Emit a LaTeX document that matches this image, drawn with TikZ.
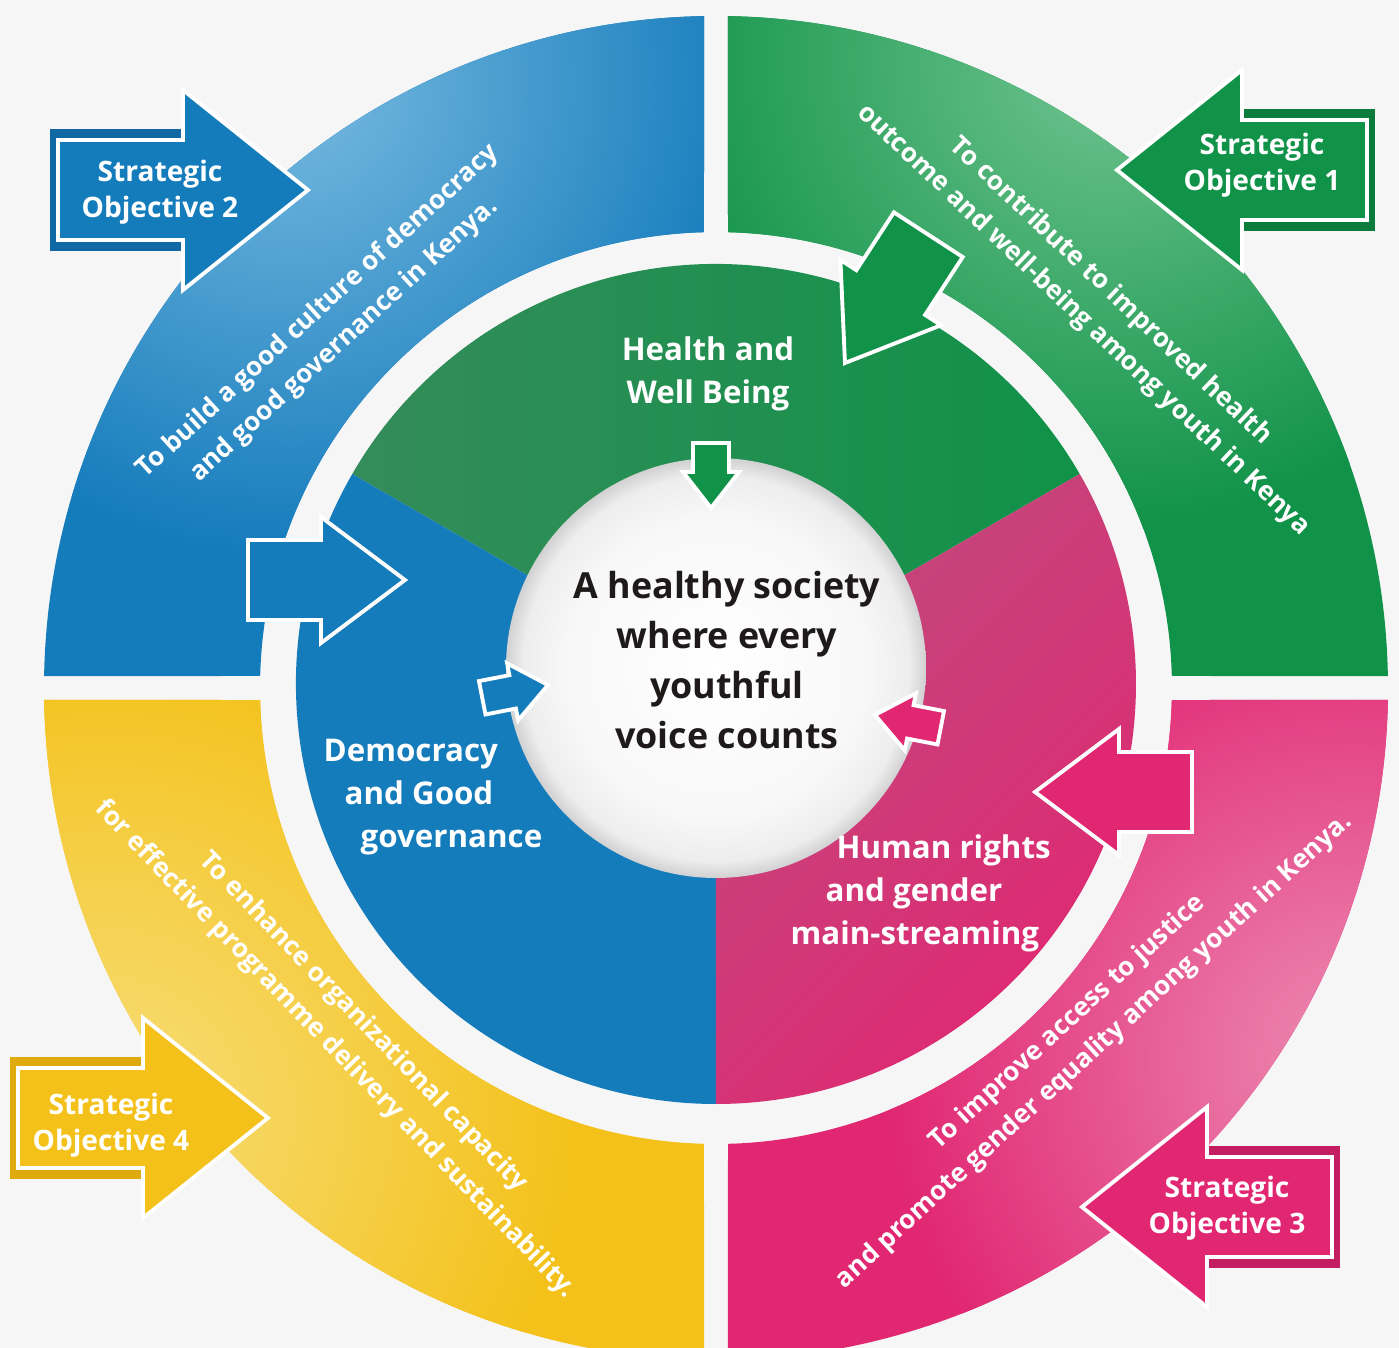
\documentclass[tikz,border=0pt]{standalone}
\usepackage{fontspec}
\setmainfont{Open Sans}
\usepackage{xcolor}
\usepackage{tikz}
\usetikzlibrary{positioning}

\definecolor{ringblue}{RGB}{21,124,188}
\definecolor{ringbluelt}{RGB}{120,186,224}
\definecolor{ringbluedk}{RGB}{16,104,164}
\definecolor{ringgreen}{RGB}{16,146,72}
\definecolor{ringgreenlt}{RGB}{112,196,144}
\definecolor{ringgreendk}{RGB}{12,124,60}
\definecolor{hubgreen}{RGB}{52,140,90}
\definecolor{ringpink}{RGB}{225,39,114}
\definecolor{ringpinklt}{RGB}{236,140,180}
\definecolor{ringpinkdk}{RGB}{196,30,98}
\definecolor{hubpink}{RGB}{192,74,124}
\definecolor{ringyellow}{RGB}{243,193,25}
\definecolor{ringyellowlt}{RGB}{248,222,122}
\definecolor{ringyellowdk}{RGB}{222,170,14}
\definecolor{pagegray}{RGB}{246,246,246}
\definecolor{visionblack}{RGB}{30,26,26}

\pgfdeclareradialshading{visionglow}{\pgfpoint{0bp}{0bp}}{color(0bp)=(white); color(18bp)=(white!97!black); color(23bp)=(white!93!black); color(25bp)=(white!82!black); color(50bp)=(white!82!black)}

\begin{document}
\begin{tikzpicture}[x=0.01cm, y=0.01cm]
\tikzstyle{sotext} = [text=white, align=center, inner sep=0, font=\fontsize{8}{10.2}\selectfont\bfseries]
\tikzstyle{goaltext} = [text=white, align=center, inner sep=0, font=\fontsize{7.45}{11.1}\selectfont\bfseries]
\tikzstyle{areatext} = [text=white, align=left, inner sep=0, font=\fontsize{8.9}{12.2}\selectfont\bfseries]
\tikzstyle{visiontext} = [text=visionblack, align=center, inner sep=0, font=\fontsize{10.2}{14.2}\selectfont\bfseries]
\tikzset{
  pics/blockarrow/.style n args={5}{code={
    \path[draw=white, line width=1.1pt, fill=#5] (0,0) -- (-#4,#3) -- (-#4,#2) -- (-#1,#2) -- (-#1,-#2) -- (-#4,-#2) -- (-#4,-#3) -- cycle;
  }},
  pics/soarrow/.style 2 args={code={
    \fill[#2] (-258,-61) rectangle (-125,61);
    \path[draw=white, line width=1.1pt, fill=#1] (0,0) -- (-125,100) -- (-125,50) -- (-250,50) -- (-250,-50) -- (-125,-50) -- (-125,-100) -- cycle;
  }}
}

\useasboundingbox (-716,-660) rectangle (683,688);
\fill[pagegray] (-716,-660) rectangle (683,688);

\foreach \a/\c/\l/\h in {90/ringblue/ringbluelt/125, 0/ringgreen/ringgreenlt/58, 270/ringpink/ringpinklt/330, 180/ringyellow/ringyellowlt/215} {
  \begin{scope}
    \clip ({\a+1.02}:672) arc[start angle=\a+1.02, end angle=\a+88.98, radius=672] -- ({\a+88.49}:456) arc[start angle=\a+88.49, end angle=\a+1.51, radius=456] -- cycle;
    \fill[\c] (-716,-700) rectangle (700,700);
    \shade[inner color=\l, outer color=\c] (\h:740) circle[radius=470];
  \end{scope}
}

\begin{scope}[shift={(0,4)}]
  \shade[left color=hubgreen, right color=ringgreen] (0,0) -- (30:420) arc[start angle=30, end angle=150, radius=420] -- cycle;
  \fill[ringblue] (0,0) -- (150:420) arc[start angle=150, end angle=270, radius=420] -- cycle;
  \shade[left color=hubpink, right color=ringpink, shading angle=45] (0,0) -- (270:420) arc[start angle=270, end angle=390, radius=420] -- cycle;
\end{scope}
\shade[shading=visionglow] (0,20) circle[radius=210];

\pic at (-311,108) {blockarrow={157}{40}{63}{84}{ringblue}};
\pic[rotate=180] at (319,-104) {blockarrow={157}{40}{63}{84}{ringpink}};
\pic[rotate=237] at (129,325) {blockarrow={153}{41}{60}{84}{ringgreen}};

\pic[rotate=270] at (-5,180) {blockarrow={65}{18}{28}{36}{ringgreen}};
\pic[rotate=11] at (-168,3) {blockarrow={67}{17}{29}{36}{ringblue}};
\pic[rotate=169] at (159,-27) {blockarrow={67}{17}{29}{36}{ringpink}};

\pic at (-408,498) {soarrow={ringblue}{ringbluedk}};
\pic[rotate=180] at (401,518) {soarrow={ringgreen}{ringgreendk}};
\pic at (-448,-430) {soarrow={ringyellow}{ringyellowdk}};
\pic[rotate=180] at (366,-519) {soarrow={ringpink}{ringpinkdk}};

\node (so2) [sotext] at (-556,496) {Strategic\\Objective 2};
\node (so1) [sotext] at (546,523) {Strategic\\Objective 1};
\node (so4) [sotext] at (-605,-437) {Strategic\\Objective 4};
\node (so3) [sotext] at (511,-520) {Strategic\\Objective 3};

\node (goal2) [goaltext, rotate=42.5] at (-385,362) {To build a good culture of democracy\\and good governance in Kenya.};
\node (goal1) [goaltext, rotate=-43.5] at (381,382) {To contribute to improved health\\outcome and well-being among youth in Kenya};
\node (goal4) [goaltext, rotate=-46] at (-367,-348) {To enhance organizational capacity\\for effective programme delivery and sustainability.};
\node (goal3) [goaltext, rotate=42.5] at (365,-349) {To improve access to justice\\and promote gender equality among youth in Kenya.};

\node (health) [areatext, align=center] at (-8,314) {Health and\\Well Being};
\node (democracy) [areatext, anchor=west] at (-393,-109) {Democracy\\\hspace*{0.21cm}and Good\\\hspace*{0.37cm}governance};
\node (rights) [areatext, anchor=west] at (74,-205) {\hspace*{0.46cm}Human rights\\\hspace*{0.35cm}and gender\\main-streaming};

\node (vision) [visiontext] at (11,28) {A healthy society\\where every\\youthful\\voice counts};
\end{tikzpicture}
\end{document}
